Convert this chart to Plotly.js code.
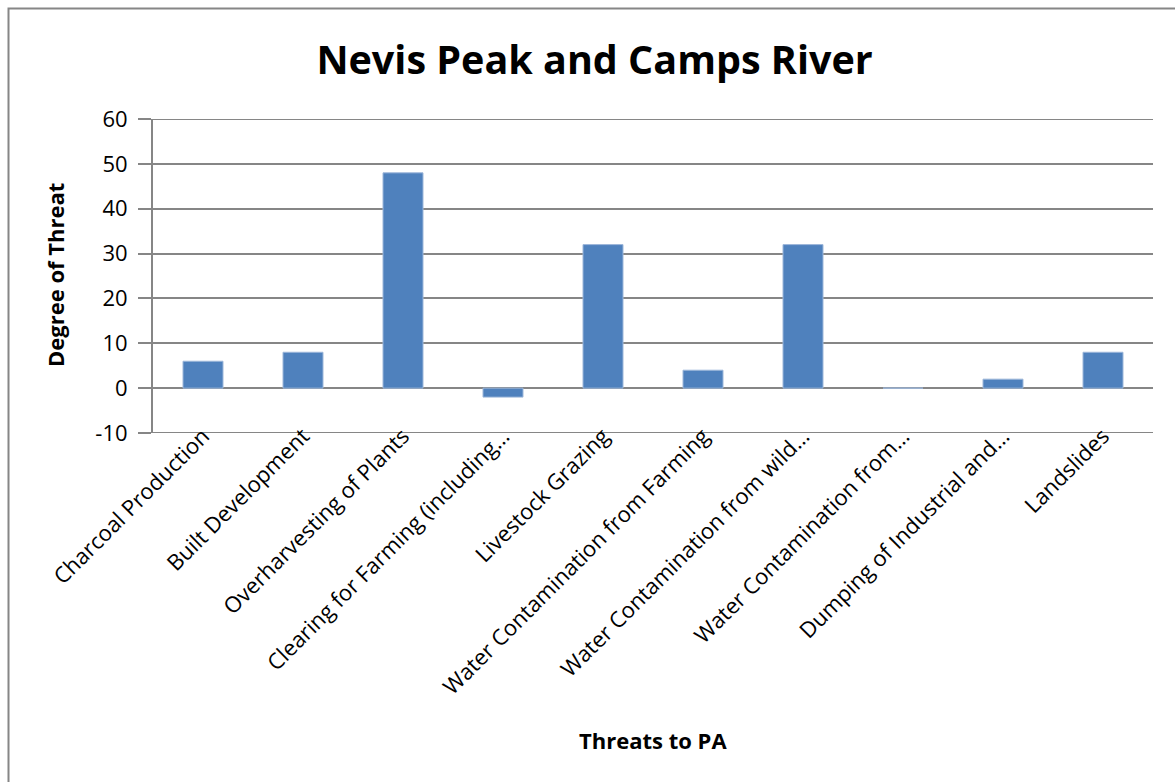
<!DOCTYPE html>
<html>
<head>
<meta charset="utf-8">
<script src="https://cdn.plot.ly/plotly-3.0.1.min.js"></script>
<style>html,body{margin:0;padding:0;background:#fff}#chart{width:1175px;height:782px}</style>
</head>
<body>
<div id="chart"></div>
<script>
const categories = [
  "Charcoal Production",
  "Built Development",
  "Overharvesting of Plants",
  "Clearing for Farming (including…",
  "Livestock Grazing",
  "Water Contamination from Farming",
  "Water Contamination from wild…",
  "Water Contamination from…",
  "Dumping of Industrial and…",
  "Landslides"
];
const degreeOfThreat = [6, 8, 48, -2, 32, 4, 32, 0, 2, 8];
const yTicks = [-10, 0, 10, 20, 30, 40, 50, 60];
const yRange = [-10, 60];
const chartTitle = "Nevis Peak and Camps River";
const xTitle = "Threats to PA";
const yTitle = "Degree of Threat";

const FONT = "Open Sans, Noto Sans, sans-serif";
const W = 1175, H = 782;
const L = 153, R = 1153, T = 119, B = 433;   // data area in pixels
const LIFT = 15;                              // tick labels sit this much higher
const PB = B + LIFT;                          // paper bottom
const PH = PB - T;                            // paper height
const px = x => (x - L) / (R - L);
const py = y => (PB - y) / PH;
const GRID = "#868686";

const data = [{
  type: "bar",
  x: categories,
  y: degreeOfThreat,
  marker: {color: "#4F81BD", line: {color: "#9DB7DA", width: 1}},
  hoverinfo: "x+y"
}];

const layout = {
  width: W, height: H,
  margin: {l: L, r: W - R, t: T, b: H - PB, pad: 0},
  paper_bgcolor: "#ffffff",
  plot_bgcolor: "#ffffff",
  showlegend: false,
  bargap: 0.6,
  font: {family: FONT, color: "#000"},
  title: {
    text: "<b>" + chartTitle + "</b>",
    font: {family: FONT, size: 39.5, color: "#000"},
    xref: "container", yref: "container",
    x: 0.506, xanchor: "center", y: 1 - 60 / H, yanchor: "middle"
  },
  xaxis: {
    type: "category",
    anchor: "free",
    position: py(B - LIFT),
    tickangle: -45,
    tickfont: {family: FONT, size: 22, color: "#000"},
    showgrid: false,
    showline: false,
    zeroline: false,
    ticks: "",
    automargin: false,
    fixedrange: true
  },
  yaxis: {
    domain: [py(B), 1],
    range: yRange,
    tickvals: yTicks,
    ticktext: yTicks.map(String),
    tickfont: {family: FONT, size: 22, color: "#000"},
    ticklabelstandoff: 6,
    showgrid: true,
    gridcolor: GRID,
    gridwidth: 2,
    zeroline: true,
    zerolinecolor: GRID,
    zerolinewidth: 2,
    showline: true,
    linecolor: GRID,
    linewidth: 2,
    ticks: "outside",
    ticklen: 13,
    tickcolor: GRID,
    tickwidth: 2,
    automargin: false,
    fixedrange: true
  },
  annotations: [
    {
      text: "<b>" + xTitle + "</b>",
      xref: "paper", yref: "paper",
      x: px(653), y: py(740),
      xanchor: "center", yanchor: "middle",
      showarrow: false,
      font: {family: FONT, size: 22, color: "#000"}
    },
    {
      text: "<b>" + yTitle + "</b>",
      xref: "paper", yref: "paper",
      x: px(55), y: py(275),
      xanchor: "center", yanchor: "middle",
      textangle: -90,
      showarrow: false,
      font: {family: FONT, size: 22, color: "#000"}
    }
  ],
  shapes: [
    {
      type: "rect", xref: "paper", yref: "paper",
      x0: px(8.5), x1: px(1300), y0: py(900), y1: py(8.5),
      line: {color: GRID, width: 2},
      fillcolor: "rgba(0,0,0,0)",
      layer: "below"
    },
    {
      type: "line", xref: "paper", yref: "y",
      x0: 0, x1: 1, y0: yRange[0], y1: yRange[0],
      line: {color: GRID, width: 2}, layer: "below"
    },
    {
      type: "line", xref: "paper", yref: "y",
      x0: 0, x1: 1, y0: yRange[1], y1: yRange[1],
      line: {color: GRID, width: 2}, layer: "below"
    }
  ]
};

Plotly.newPlot("chart", data, layout, {displayModeBar: false, staticPlot: true});
</script>
</body>
</html>
